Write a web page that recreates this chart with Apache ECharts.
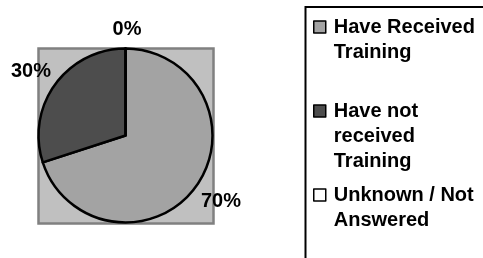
<!DOCTYPE html>
<html>
<head>
<meta charset="utf-8">
<script src="https://cdn.jsdelivr.net/npm/echarts@6/dist/echarts.min.js"></script>
<style>
  html, body { margin: 0; padding: 0; background: #fff; }
  #chart { width: 483px; height: 258px; }
</style>
</head>
<body>
<div id="chart"></div>
<script>
// data
var categories = ['Have Received Training', 'Have not received Training', 'Unknown / Not Answered'];
var values = [70, 30, 0];
var legendText = ['Have Received\nTraining', 'Have not\nreceived\nTraining', 'Unknown / Not\nAnswered'];
var colors = ['#a3a3a3', '#4d4d4d', '#ffffff'];

// label nudges (excel puts labels beside the arc, not radially)
var labelShift = [[-8, 9], [9, -7], [21, -9]];

var chart = echarts.init(document.getElementById('chart'));
var font = '"Liberation Sans", Arial, sans-serif';
var lineH = 25;

var pieData = categories.map(function (c, i) {
  return { name: c, value: values[i], itemStyle: { color: colors[i] } };
});

chart.setOption({
  animation: false,
  textStyle: { fontFamily: font },
  graphic: [
    {
      type: 'rect', z: -10,
      shape: { x: 38.5, y: 48.5, width: 175, height: 175 },
      style: { fill: '#c0c0c0', stroke: '#808080', lineWidth: 2.5 }
    },
    {
      type: 'rect', z: -10,
      shape: { x: 305.5, y: 7, width: 220, height: 280 },
      style: { fill: 'none', stroke: '#000', lineWidth: 2 }
    }
  ],
  legend: {
    orient: 'vertical',
    left: 313,
    top: -10.5,
    padding: 0,
    itemGap: -16,
    itemWidth: 12,
    itemHeight: 12,
    icon: 'rect',
    selectedMode: false,
    itemStyle: { borderColor: '#000', borderWidth: 1.5 },
    data: categories,
    // blank lines on top keep the first text line level with the icon
    formatter: function (name) {
      var t = legendText[categories.indexOf(name)];
      var n = t.split('\n').length;
      return new Array(n).join(' \n') + t;
    },
    textStyle: {
      fontFamily: font,
      fontSize: 20,
      fontWeight: 'bold',
      color: '#000',
      lineHeight: lineH,
      padding: [0, 0, 0, 3]
    }
  },
  series: [{
    type: 'pie',
    center: [125.5, 135.5],
    radius: 87,
    startAngle: 90,
    clockwise: true,
    data: pieData,
    itemStyle: { borderColor: '#000', borderWidth: 2.5 },
    emphasis: { disabled: true },
    label: {
      show: true,
      position: 'outside',
      formatter: '{d}%',
      fontFamily: font,
      fontSize: 20,
      fontWeight: 'bold',
      color: '#000',
      overflow: 'none',
      edgeDistance: 0
    },
    labelLine: { show: false, length: 10, length2: 0 },
    labelLayout: function (p) {
      var s = labelShift[p.dataIndex];
      return { dx: s[0], dy: s[1] };
    }
  }]
});
</script>
</body>
</html>
